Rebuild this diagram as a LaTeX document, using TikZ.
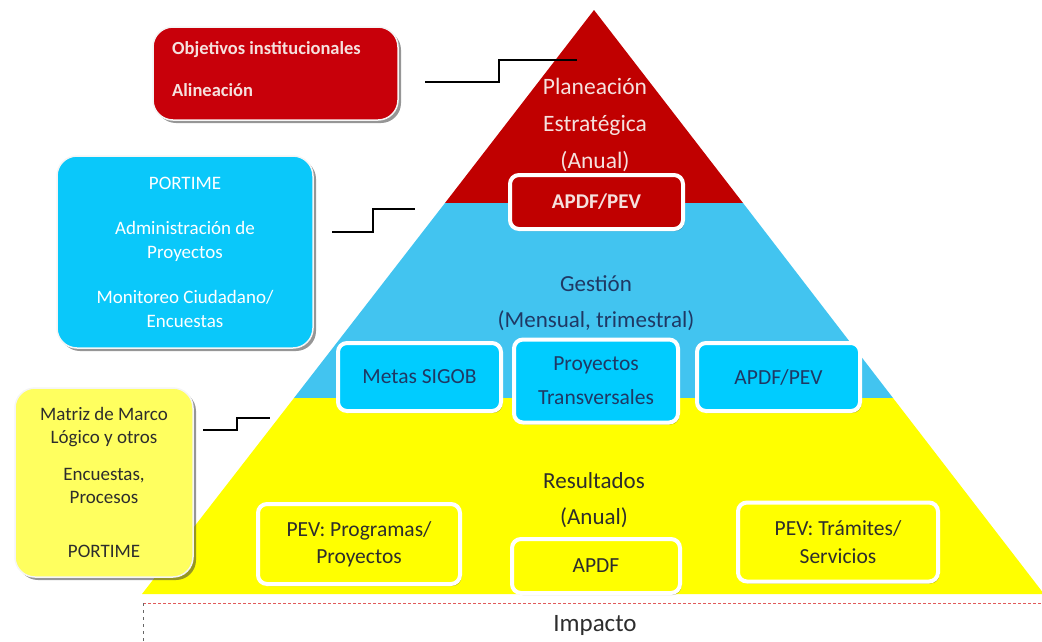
\documentclass[tikz,border=0pt]{standalone}
\usepackage{fontspec}
\setmainfont{Carlito}
\usetikzlibrary{shadows}
\definecolor{pred}{RGB}{192,0,0}
\definecolor{lred}{RGB}{200,0,10}
\definecolor{pblue}{RGB}{66,196,240}
\definecolor{bblue}{RGB}{0,204,255}
\definecolor{lblue}{RGB}{10,200,250}
\definecolor{pyel}{RGB}{255,255,0}
\definecolor{lyel}{RGB}{255,255,95}
\definecolor{cream}{RGB}{245,225,222}
\definecolor{navy}{RGB}{31,56,100}
\definecolor{dtext}{RGB}{45,45,45}
\definecolor{dashred}{RGB}{225,90,90}
\tikzset{
  pbox/.style={draw=white, line width=4pt, rounded corners=9pt, inner sep=0pt, align=center,
    drop shadow={shadow xshift=1.5pt, shadow yshift=-2pt, fill=black, opacity=0.3}},
  lbox/.style={draw=white!92!gray, line width=1.5pt, rounded corners=20pt, inner sep=0pt, align=center,
    drop shadow={shadow xshift=3pt, shadow yshift=-3pt, fill=black!75, opacity=0.55}},
  conn/.style={line width=1.2pt, black},
  txt/.style={font=\fontsize{19}{24}\selectfont, inner sep=0pt, align=center},
}
\begin{document}
\begin{tikzpicture}[x=1pt,y=-1pt]
\useasboundingbox (0,0) rectangle (1042,641);
% pyramid layers
\fill[pred] (594,10) -- (743,203) -- (445,203) -- cycle;
\fill[pblue] (445,203) -- (743,203) -- (893,398) -- (294,398) -- cycle;
\fill[pyel] (294,398) -- (893,398) -- (1044,594) -- (142,594) -- cycle;
% layer labels
\node[txt, font=\fontsize{23.5}{37}\selectfont, text=cream] (plan) at (595,125) {Planeación\\Estratégica\\(Anual)};
\node[txt, font=\fontsize{23}{36}\selectfont, text=navy] (gest) at (596,303) {Gestión\\(Mensual, trimestral)};
\node[txt, font=\fontsize{23}{36}\selectfont, text=dtext] (resu) at (594,500) {Resultados\\(Anual)};
% red inner box
\node[pbox, fill=pred, minimum width=173pt, minimum height=54pt, text=cream, font=\bfseries\fontsize{21}{24}\selectfont] (rapdf) at (596.5,202) {APDF/PEV};
% blue inner boxes
\node[pbox, fill=bblue, minimum width=163pt, minimum height=68pt, text=navy, font=\fontsize{21.5}{34}\selectfont] (metas) at (419.5,377) {Metas SIGOB};
\node[pbox, fill=bblue, minimum width=164pt, minimum height=83pt, text=navy, font=\fontsize{21.5}{34}\selectfont] (proy) at (596,381) {Proyectos\\Transversales};
\node[pbox, fill=bblue, minimum width=163pt, minimum height=68pt, text=navy, font=\fontsize{21.5}{34}\selectfont] (bapdf) at (778.5,377) {APDF/PEV};
% yellow inner boxes
\node[pbox, fill=pyel, minimum width=202pt, minimum height=80pt, text=dtext, font=\fontsize{21.5}{27}\selectfont] (pevp) at (359,544) {PEV: Programas/\\Proyectos};
\node[pbox, fill=pyel, minimum width=168pt, minimum height=54pt, text=dtext, font=\fontsize{21.5}{26}\selectfont] (yapdf) at (596,566) {APDF};
\node[pbox, fill=pyel, minimum width=200pt, minimum height=79pt, text=dtext, font=\fontsize{21.5}{28}\selectfont] (pevt) at (838,542) {PEV: Trámites/\\Servicios};
% left boxes
\node[lbox, fill=lred, minimum width=245pt, minimum height=93pt] (obj) at (275.5,73.5) {};
\node[anchor=west, inner sep=0pt, align=left, text=cream, font=\bfseries\fontsize{18.5}{42}\selectfont] (objt) at (172,69) {Objetivos institucionales\\Alineación};
\node[lbox, fill=lblue, minimum width=256pt, minimum height=192pt, text=white, font=\fontsize{19}{24}\selectfont] (gbox) at (185,252) {PORTIME\\[21pt]Administración de\\Proyectos\\[21pt]Monitoreo Ciudadano/\\Encuestas};
\node[lbox, fill=lyel, minimum width=178pt, minimum height=189pt, text=dtext, font=\fontsize{19}{23}\selectfont] (ybox) at (104,482.5) {Matriz de Marco\\Lógico y otros\\[14pt]Encuestas,\\Procesos\\[31pt]PORTIME};
% connectors
\coordinate (c1a) at (425,82); \coordinate (c1b) at (577,60);
\draw[conn] (c1a) -- ++(74,0) |- (c1b);
\coordinate (c2a) at (332,232); \coordinate (c2b) at (415,209);
\draw[conn] (c2a) -- ++(41,0) |- (c2b);
\coordinate (c3a) at (203,430); \coordinate (c3b) at (270,418);
\draw[conn] (c3a) -- ++(34,0) |- (c3b);
% impacto
\coordinate (imtl) at (143,603); \coordinate (imtr) at (1046,603); \coordinate (imbl) at (143,645);
\draw[dashred, line width=1pt, dash pattern=on 3pt off 2pt] (imtr) -- (imtl);
\draw[black!60, line width=0.8pt, dash pattern=on 3pt off 4pt] (imtl) -- (imbl);
\node[txt, font=\fontsize{25}{28}\selectfont, text=dtext] (imp) at (595,625) {Impacto};
\end{tikzpicture}
\end{document}
